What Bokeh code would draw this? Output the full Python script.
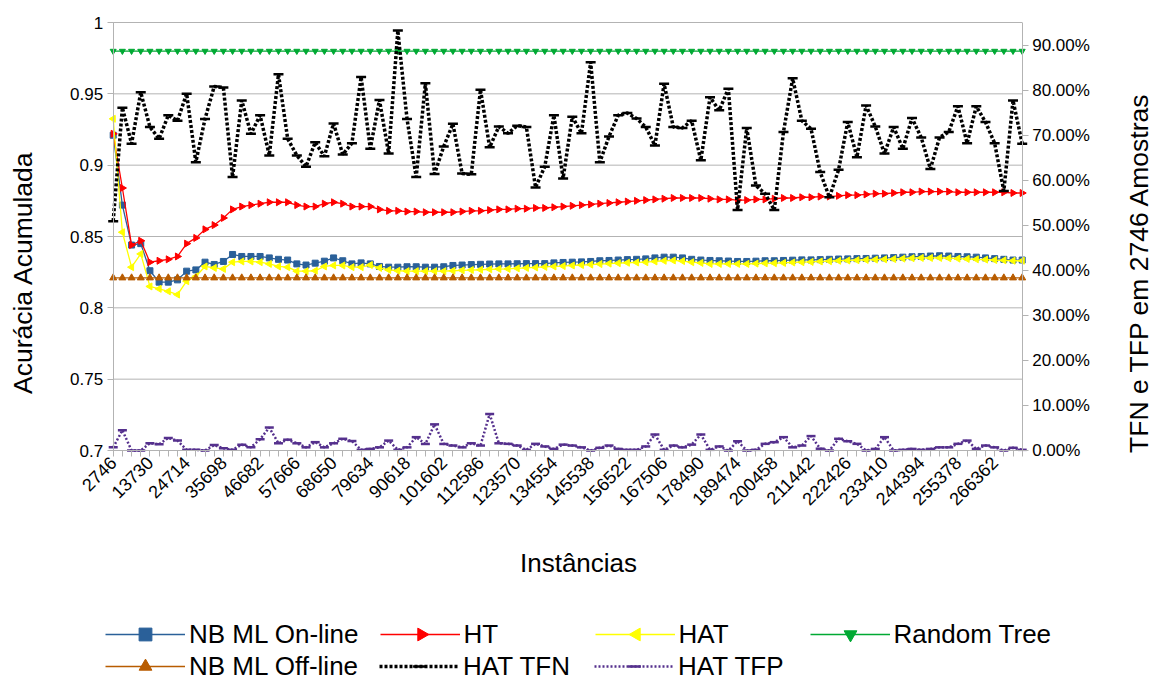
import math
from bokeh.plotting import figure
from bokeh.models import (Range1d, LinearAxis, FixedTicker, NumeralTickFormatter,
                          Legend, LegendItem, Label)
from bokeh.embed import file_html
from bokeh.resources import INLINE

# Instance counts (one block every 2746 samples)
instances = [
    2746, 5492, 8238, 10984, 13730, 16476, 19222, 21968, 24714, 27460,
    30206, 32952, 35698, 38444, 41190, 43936, 46682, 49428, 52174, 54920,
    57666, 60412, 63158, 65904, 68650, 71396, 74142, 76888, 79634, 82380,
    85126, 87872, 90618, 93364, 96110, 98856, 101602, 104348, 107094, 109840,
    112586, 115332, 118078, 120824, 123570, 126316, 129062, 131808, 134554, 137300,
    140046, 142792, 145538, 148284, 151030, 153776, 156522, 159268, 162014, 164760,
    167506, 170252, 172998, 175744, 178490, 181236, 183982, 186728, 189474, 192220,
    194966, 197712, 200458, 203204, 205950, 208696, 211442, 214188, 216934, 219680,
    222426, 225172, 227918, 230664, 233410, 236156, 238902, 241648, 244394, 247140,
    249886, 252632, 255378, 258124, 260870, 263616, 266362, 269108, 271854, 274600,
]

# Accumulated accuracy (left axis)
nb_online = [
    0.921, 0.872, 0.844, 0.845, 0.826, 0.818, 0.818, 0.8196, 0.8257, 0.8266,
    0.832, 0.8304, 0.8325, 0.8374, 0.836, 0.836, 0.836, 0.835, 0.834, 0.8335,
    0.8308, 0.830, 0.8313, 0.8327, 0.835, 0.833, 0.8308, 0.8315, 0.8308, 0.829,
    0.8285, 0.8285, 0.8288, 0.8288, 0.8285, 0.8285, 0.8288, 0.8297, 0.830, 0.8303,
    0.8305, 0.8307, 0.8308, 0.8308, 0.8309, 0.831, 0.831, 0.831, 0.8315, 0.8318,
    0.832, 0.8322, 0.8325, 0.833, 0.8332, 0.8335, 0.8338, 0.834, 0.8343, 0.835,
    0.8355, 0.8355, 0.835, 0.834, 0.8335, 0.8332, 0.833, 0.8328, 0.8325, 0.8325,
    0.8327, 0.833, 0.833, 0.8332, 0.8334, 0.8336, 0.8336, 0.8338, 0.834, 0.8342,
    0.8343, 0.8345, 0.8346, 0.8348, 0.835, 0.8352, 0.8355, 0.8358, 0.836, 0.8363,
    0.8365, 0.8363, 0.836, 0.8358, 0.8355, 0.835, 0.8345, 0.834, 0.8335, 0.8335,
]
ht = [
    0.922, 0.884, 0.844, 0.847, 0.832, 0.833, 0.834, 0.836, 0.845, 0.849,
    0.855, 0.858, 0.863, 0.869, 0.871, 0.872, 0.873, 0.874, 0.874, 0.874,
    0.872, 0.871, 0.871, 0.873, 0.874, 0.873, 0.871, 0.871, 0.871, 0.869,
    0.868, 0.868, 0.8675, 0.8675, 0.867, 0.867, 0.867, 0.867, 0.8675, 0.868,
    0.868, 0.8685, 0.869, 0.869, 0.8695, 0.8695, 0.870, 0.870, 0.8705, 0.871,
    0.8715, 0.872, 0.8725, 0.873, 0.8735, 0.874, 0.8745, 0.875, 0.8755, 0.876,
    0.8765, 0.877, 0.877, 0.877, 0.877, 0.8765, 0.876, 0.876, 0.8755, 0.8755,
    0.876, 0.876, 0.8765, 0.877, 0.877, 0.8775, 0.8775, 0.878, 0.878, 0.8785,
    0.879, 0.879, 0.8795, 0.880, 0.880, 0.8805, 0.881, 0.881, 0.8815, 0.8815,
    0.8815, 0.8815, 0.881, 0.881, 0.881, 0.881, 0.881, 0.881, 0.8805, 0.8805,
]
hat = [
    0.9325, 0.853, 0.8285, 0.8378, 0.815, 0.8133, 0.8116, 0.8093, 0.8187, 0.822,
    0.829, 0.828, 0.8273, 0.832, 0.8325, 0.8325, 0.832, 0.8308, 0.829, 0.8285,
    0.8257, 0.8257, 0.826, 0.829, 0.8297, 0.8297, 0.8285, 0.8285, 0.830, 0.828,
    0.8266, 0.826, 0.8257, 0.8257, 0.8257, 0.8257, 0.8257, 0.826, 0.8263, 0.8265,
    0.8267, 0.827, 0.8272, 0.8273, 0.8277, 0.828, 0.8283, 0.8287, 0.829, 0.8293,
    0.8297, 0.830, 0.8303, 0.8307, 0.831, 0.8313, 0.8316, 0.8318, 0.832, 0.8325,
    0.833, 0.8332, 0.8328, 0.832, 0.8315, 0.8308, 0.8308, 0.8308, 0.8308, 0.8308,
    0.831, 0.8312, 0.8313, 0.8315, 0.8318, 0.832, 0.8322, 0.8325, 0.8327, 0.833,
    0.8332, 0.8334, 0.8336, 0.8338, 0.834, 0.8342, 0.8345, 0.8348, 0.835, 0.835,
    0.835, 0.8348, 0.8345, 0.8343, 0.834, 0.8338, 0.8335, 0.8333, 0.833, 0.833,
]
random_tree = [0.98] * 100
nb_offline = [0.821] * 100

# False negative / false positive rates per block (right axis)
hat_tfn = [
    0.509, 0.761, 0.681, 0.795, 0.718, 0.692, 0.744, 0.732, 0.792, 0.640,
    0.736, 0.808, 0.806, 0.607, 0.777, 0.703, 0.744, 0.655, 0.835, 0.692,
    0.655, 0.630, 0.684, 0.653, 0.726, 0.657, 0.682, 0.829, 0.670, 0.778,
    0.659, 0.932, 0.736, 0.607, 0.815, 0.614, 0.675, 0.725, 0.615, 0.613,
    0.801, 0.673, 0.719, 0.704, 0.721, 0.718, 0.584, 0.630, 0.744, 0.604,
    0.741, 0.704, 0.862, 0.640, 0.697, 0.744, 0.749, 0.737, 0.718, 0.677,
    0.814, 0.718, 0.716, 0.732, 0.644, 0.784, 0.755, 0.803, 0.534, 0.716,
    0.588, 0.570, 0.534, 0.707, 0.826, 0.732, 0.714, 0.618, 0.562, 0.623,
    0.729, 0.651, 0.766, 0.719, 0.659, 0.718, 0.670, 0.738, 0.695, 0.625,
    0.695, 0.707, 0.764, 0.682, 0.764, 0.729, 0.682, 0.576, 0.777, 0.681,
]
hat_tfp = [
    0.007, 0.045, 0.0, 0.0, 0.016, 0.014, 0.028, 0.022, 0.0015, 0.0015,
    0.0, 0.012, 0.005, 0.0015, 0.013, 0.007, 0.025, 0.051, 0.016, 0.024,
    0.016, 0.007, 0.0185, 0.007, 0.016, 0.026, 0.021, 0.0015, 0.0035, 0.007,
    0.022, 0.0015, 0.007, 0.0296, 0.0145, 0.058, 0.0145, 0.011, 0.007, 0.016,
    0.011, 0.081, 0.016, 0.0148, 0.011, 0.0015, 0.0148, 0.009, 0.0035, 0.013,
    0.011, 0.007, 0.0, 0.006, 0.011, 0.0035, 0.0015, 0.0015, 0.009, 0.0355,
    0.0015, 0.011, 0.007, 0.013, 0.0355, 0.0015, 0.009, 0.0, 0.0206, 0.0,
    0.0015, 0.0148, 0.0185, 0.0296, 0.007, 0.011, 0.032, 0.004, 0.0, 0.026,
    0.0206, 0.0148, 0.0, 0.0035, 0.0296, 0.0, 0.0015, 0.0035, 0.0015, 0.0035,
    0.007, 0.007, 0.0148, 0.022, 0.0035, 0.011, 0.007, 0.0, 0.006, 0.0015,
]

acc_ticks = [0.7, 0.75, 0.8, 0.85, 0.9, 0.95, 1.0]
rate_ticks = [0.0, 0.1, 0.2, 0.3, 0.4, 0.5, 0.6, 0.7, 0.8, 0.9]

FONT = "Liberation Sans"
GRID = "#b3b3b3"
W, H = 1152, 682

# plot region inside the canvas (pixels from the top-left corner)
PX_L, PX_R, PX_T, PX_B = 112.7, 1021.7, 22.0, 450.0

xs = list(range(len(instances)))
n_last = len(instances) - 1

# The frame covers the whole canvas; ranges are stretched so that the data
# region lands on the plot rectangle and the titles/legend fit around it.
dx = (PX_R - PX_L) / n_last
acc_lo, acc_hi = acc_ticks[0], acc_ticks[-1]
rate_lo, rate_hi = 0.0, 0.95
acc_pp = (acc_hi - acc_lo) / (PX_B - PX_T)
rate_pp = (rate_hi - rate_lo) / (PX_B - PX_T)

p = figure(width=W, height=H, output_backend="svg", toolbar_location=None,
           x_range=Range1d(-PX_L / dx, n_last + (W - PX_R) / dx),
           y_range=Range1d(acc_lo - (H - PX_B) * acc_pp, acc_hi + PX_T * acc_pp),
           min_border=0, min_border_left=0, min_border_right=0,
           min_border_top=0, min_border_bottom=0)
p.extra_y_ranges = {"rate": Range1d(rate_lo - (H - PX_B) * rate_pp,
                                    rate_hi + PX_T * rate_pp),
                    "py": Range1d(0, H)}
p.extra_x_ranges = {"px": Range1d(0, W)}
p.outline_line_color = None
p.background_fill_color = "white"
p.border_fill_color = "white"
p.xgrid.visible = False
p.ygrid.visible = False

# horizontal grid lines at the accuracy ticks
p.segment(x0=[0] * len(acc_ticks), x1=[n_last] * len(acc_ticks), y0=acc_ticks,
          y1=acc_ticks, line_color=GRID, line_width=1)

# left axis
ya = p.yaxis[0]
ya.ticker = FixedTicker(ticks=acc_ticks)
ya.formatter = NumeralTickFormatter(format="0.[00]")
ya.fixed_location = 0
ya.bounds = (acc_lo, acc_hi)

# bottom axis: a tick per block, a label every fourth block
xa = p.xaxis[0]
xa.ticker = FixedTicker(ticks=xs)
xa.major_label_overrides = {i: (str(v) if i % 4 == 0 else "") for i, v in enumerate(instances)}
xa.major_label_orientation = math.pi / 4
xa.fixed_location = acc_lo
xa.bounds = (0, n_last)

# right axis
ra = LinearAxis(y_range_name="rate", ticker=FixedTicker(ticks=rate_ticks),
                formatter=NumeralTickFormatter(format="0.00%"))
ra.fixed_location = n_last
ra.bounds = (rate_lo, rate_hi)
p.add_layout(ra, "right")

for ax in (ya, xa, ra):
    ax.axis_line_color = GRID
    ax.major_tick_line_color = GRID
    ax.major_tick_out = 6
    ax.major_tick_in = 0
    ax.minor_tick_line_color = None
    ax.major_label_text_font = FONT
    ax.major_label_text_color = "#000000"
    ax.major_label_standoff = 4
    ax.major_label_text_font_size = "17px"
xa.major_label_text_font_size = "18px"
xa.major_label_standoff = 3

BLUE, RED, YELLOW, GREEN = "#2a6099", "#ff0000", "#ffff00", "#00a933"
BROWN, BLACK, PURPLE = "#b85c00", "#000000", "#55308d"

l_blue = p.line(xs, nb_online, line_color=BLUE, line_width=1.3)
s_blue = p.scatter(xs, nb_online, marker="square", size=6, color=BLUE)
l_red = p.line(xs, ht, line_color=RED, line_width=1.3)
s_red = p.scatter(xs, ht, marker="triangle", angle=-math.pi / 2, size=7, color=RED)
l_yel = p.line(xs, hat, line_color=YELLOW, line_width=1.3)
s_yel = p.scatter(xs, hat, marker="triangle", angle=math.pi / 2, size=7, color=YELLOW)
l_grn = p.line(xs, random_tree, line_color=GREEN, line_width=1.3)
s_grn = p.scatter(xs, random_tree, marker="inverted_triangle", size=6, color=GREEN)
l_brn = p.line(xs, nb_offline, line_color=BROWN, line_width=1.3)
s_brn = p.scatter(xs, nb_offline, marker="triangle", size=7, color=BROWN)
l_blk = p.line(xs, hat_tfn, y_range_name="rate", line_color=BLACK, line_width=3.5,
               line_dash="3 2")
s_blk = p.scatter(xs, hat_tfn, y_range_name="rate", marker="dash", size=10,
                  line_color=BLACK, line_width=2.5)
l_pur = p.line(xs, hat_tfp, y_range_name="rate", line_color=PURPLE, line_width=2.5,
               line_dash="2 2")
s_pur = p.scatter(xs, hat_tfp, y_range_name="rate", marker="dash", size=9,
                  line_color=PURPLE, line_width=2.5)

# legend layout
LEG_X = 105
ROW1_BOTTOM, ROW2_BOTTOM = 32, 0
KEY_H = 32


def legend_row(items, bottom):
    leg = Legend(items=items, location=(LEG_X, bottom), orientation="horizontal",
                 glyph_width=80, glyph_height=KEY_H, label_height=KEY_H, label_width=110,
                 spacing=21, padding=0, margin=0, label_standoff=4,
                 label_text_font=FONT, label_text_font_size="26px",
                 label_text_color="#000000", border_line_color=None,
                 background_fill_alpha=0)
    p.add_layout(leg, "center")


legend_row([LegendItem(label="NB ML On-line", renderers=[l_blue, s_blue]),
            LegendItem(label="HT", renderers=[l_red]),
            LegendItem(label="HAT", renderers=[l_yel]),
            LegendItem(label="Random Tree", renderers=[l_grn, s_grn])], ROW1_BOTTOM)
legend_row([LegendItem(label="NB ML Off-line", renderers=[l_brn, s_brn]),
            LegendItem(label="HAT TFN", renderers=[l_blk, s_blk]),
            LegendItem(label="HAT TFP", renderers=[l_pur, s_pur])], ROW2_BOTTOM)

# sideways triangle keys for the HT and HAT legend entries
# (legend keys are drawn unrotated, so these are laid over the key centres)
key_y = ROW1_BOTTOM + KEY_H / 2
p.scatter([421], [key_y], x_range_name="px", y_range_name="py", marker="triangle",
          angle=-math.pi / 2, size=0.4 * KEY_H, color=RED)
p.scatter([636], [key_y], x_range_name="px", y_range_name="py", marker="triangle",
          angle=math.pi / 2, size=0.4 * KEY_H, color=YELLOW)

# axis titles (screen units measured from the bottom-left corner)
for txt, x, y, ang, fs in [("Instâncias", 578, H - 562, 0.0, "26px"),
                           ("Acurácia Acumulada", 22, H - 272, math.pi / 2, "26.5px"),
                           ("TFN e TFP em 2746 Amostras", 1138, H - 272, math.pi / 2, "26.5px")]:
    p.add_layout(Label(x=x, y=y, x_units="screen", y_units="screen", text=txt,
                       angle=ang, text_align="center", text_baseline="middle",
                       text_font=FONT, text_font_size=fs, text_color="#000000"))

open("out.html", "w").write(file_html(p, INLINE))
